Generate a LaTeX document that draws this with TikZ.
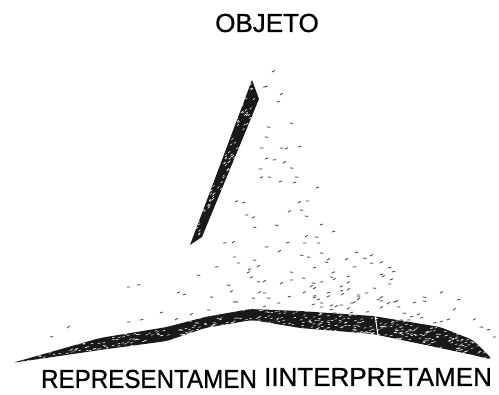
\documentclass[tikz,border=0pt]{standalone}
\usepackage{fontspec}
\setmainfont[FakeBold=0.8]{Liberation Sans}
\begin{document}
\begin{tikzpicture}[x=1pt,y=-1pt,
  wedge/.style={fill=black!90,draw=none},
  speck/.style={line width=0.8pt,draw=black!75,line cap=round},
  grain/.style={line width=0.55pt,draw=white,line cap=round},
  lbl/.style={font=\fontsize{26}{26}\selectfont,inner sep=0pt,text=black}]
\useasboundingbox (0,0) rectangle (499,395);
% vertical stroke (towards OBJETO)
\path[wedge] (252,80) -- (259,99) -- (202,237) -- (190,245) -- cycle;
\begin{scope}
  \clip (252,80) -- (259,99) -- (202,237) -- (190,245) -- cycle;
  \pgfmathsetseed{11}
  \foreach \i in {1,...,450}{
    \pgfmathsetmacro\px{188+72*rnd}
    \pgfmathsetmacro\py{78+168*rnd}
    \draw[grain] (\px,\py) -- ++(1.8,-1.4);
  }
\end{scope}
% bottom band (REPRESENTAMEN -- INTERPRETAMEN)
\def\bandpath{(12,363) -- (100,338) -- (167,327) -- (205,317) -- (250,309)
  -- (300,311) -- (373,316) -- (440,327) -- (473,340) -- (493,360)
  -- (473,355) -- (440,348) -- (373,334) -- (300,328) -- (252,320)
  -- (205,328) -- (167,341) -- (100,350) -- cycle}
\path[wedge,rounded corners=5pt] \bandpath;
\begin{scope}
  \clip[rounded corners=5pt] \bandpath;
  \pgfmathsetseed{5}
  \foreach \i in {1,...,1600}{
    \pgfmathsetmacro\px{10+485*rnd}
    \pgfmathsetmacro\py{305+62*rnd}
    \draw[grain] (\px,\py) -- ++(2.2,-0.5);
  }
  \draw[white,line width=1pt] (375,314) -- (378,336);
\end{scope}
% scattered specks
\pgfmathsetseed{17}
\foreach \x/\y in {272/72,263/87,265/87,280/95,277/102,290/123,267/127,265/137,298/147,260/148,280/148,285/149,
  265/159,273/160,283/163,290/168,259/169,295/177,260/178,268/177,279/182,293/183,316/188,235/202,
  242/203,298/203,306/201,288/212,245/215,252/218,300/210,305/216,253/227,275/225,320/225,332/232,
  223/243,232/243,286/243,305/237,315/237,303/243,317/243,265/247,278/252,300/255,307/257,320/253,
  327/260,355/253,363/258,370/256,380/263,233/257,253/260,215/267,237/263,257/267,248/270,290/272,
  313/268,325/262,332/273,345/260,353/267,370/263,388/268,392/272,250/278,263/282,290/280,302/278,
  312/283,320/282,333/280,347/277,382/277,390/280,210/297,235/302,258/293,267/298,288/297,310/287,
  313/298,327/297,340/287,347/290,357/295,365/293,373/288,380/298,395/302,423/297,453/310,335/307,
  350/303,127/287,137/285,177/293,183/295,197/275,227/285,247/273,257/282,160/313,140/320,127/322,
  175/320,190/315,207/310,233/302,252/298,67/328,50/337,230/292,263/293,280/284,313/289,330/277,
  347/283,380/275,388/284,303/293,317/300,327/293,340/291,357/300,377/300,387/304,397/307,403/313,
  413/303,423/301,440/293,457/300,473/320,480/327,493/337,487/330,407/320,420/318,433/323,440/322,
  447/320,277/303,263/307,320/307,330/310,347/309,313/296,341/295,357/297,380/301,393/302,330/306,
  340/305,353/303,320/303,312/305,333/313,350/313,366/312,380/308,410/317,400/320,417/315}{
  \pgfmathsetmacro\a{-10+45*rnd}
  \draw[speck] (\x,\y) -- ++({3*cos(\a)},{-3*sin(\a)});
}
% labels
\node[lbl] (objeto) at (267,23) {OBJETO};
\node[lbl] (repr) at (149,379) {\scalebox{0.93}[1]{REPRESENTAMEN}};
\node[lbl] (interp) at (378,377) {IINTERPRETAMEN};
\end{tikzpicture}
\end{document}
